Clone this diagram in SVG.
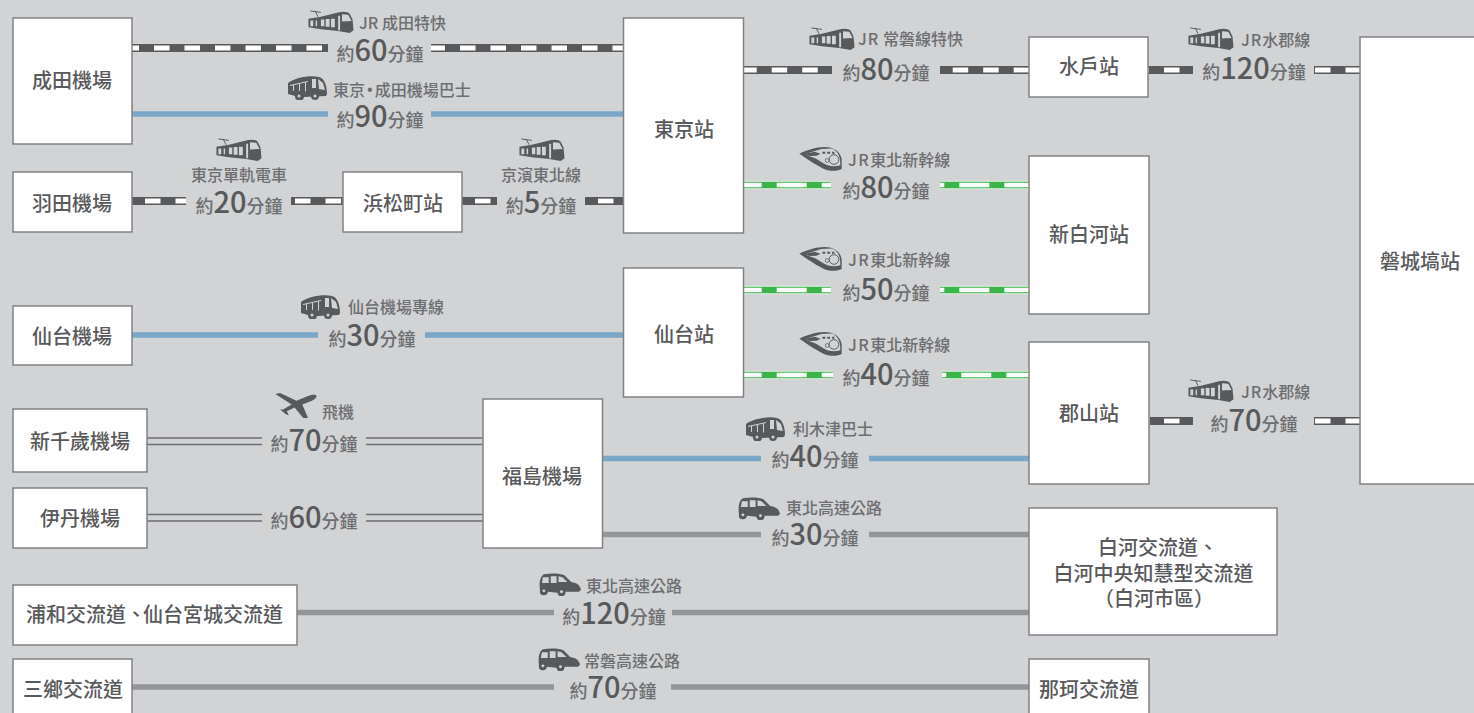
<svg xmlns="http://www.w3.org/2000/svg" width="1474" height="713" viewBox="0 0 1474 713">
<style>
text{font-family:"Noto Sans CJK TC","Noto Sans",sans-serif;fill:#58595b;font-weight:500}
.n rect{fill:#fff;stroke:#808285;stroke-width:1.5}
.n text{font-size:20px;text-anchor:middle;fill:#58595b}
.l{font-size:16px;fill:#6d6e71}
.d{font-size:18px;text-anchor:middle;fill:#6d6e71}
.d tspan{font-size:29px;fill:#58595b}
.rd{stroke:#58595b;stroke-width:8;fill:none}
.rw{stroke:#fff;stroke-width:4.800;stroke-dasharray:15.500 15;fill:none}
.ge{stroke:#e4f4e6;stroke-width:8.500;fill:none}
.gg{stroke:#39b54a;stroke-width:6.500;fill:none}
.gw{stroke:#fff;stroke-width:4.500;stroke-dasharray:30 15;fill:none}
.b{stroke:#7aa7c7;stroke-width:5.500;fill:none}
.g{stroke:#939598;stroke-width:5.500;fill:none}
.t{stroke:#6d6e71;stroke-width:1.400;fill:none}
.i{fill:#58595b}
.h{fill:#d1d3d4}
</style>
<defs>
<symbol id="tram" viewBox="0 0 48 24"><path d="M3 1l11 1.500M8 1l3 6" stroke="#58595b" stroke-width="1" fill="none"/><path class="i" d="M1 9L14 7 34 2Q42 1 44 4L47 10 48 21 44 24 32 22 14 20 1 18Z"/><path class="h" d="M3 11h3v6H3zM8.500 11h1.500v6H8.500zM14 10h3.500v7H14zM19 9.500h4v8h-4zM24.500 9h4v9h-4zM36 4.500l6.500.500 3.500 6.500-10 .500zM32 6h2v15h-2z"/></symbol>
<symbol id="bus" viewBox="0 0 40 24"><path class="i" d="M1 7C8 2 22-1 32 1 37 2 40 9 40 18L39 20 17 21A4 4 0 0 1 8 20L1 18Z"/><circle class="i" cx="28" cy="20" r="4"/><path class="h" d="M3 9L21 5 21 6 3 10ZM6 9h1v6H6zM12 8h1v7h-1zM18 6.500h1v9h-1zM25 3h4v9h-4zM31 3l5 4 2 7-6-1z"/><circle class="h" cx="12" cy="20" r="1.500"/><circle class="h" cx="28" cy="20" r="1.500"/></symbol>
<symbol id="train" viewBox="0 0 44 27"><path class="i" d="M0 8C8 4 18 1 26 1 36 1 43 6 44 14L44 24C38 27 30 26 24 23 16 19 6 12 0 8Z"/><path class="h" d="M5 8.500L23 3 34 2.500C40 5 42.500 11 42.500 17L42.500 20C36 22 30 21 25 18L17 13Z"/><path class="i" d="M3 8.500L16 6 22 8 18 10 11 10.500ZM24 6h3v2h-3zM29 6h3v2h-3zM34 6h2.500v2H34z"/><circle fill="none" stroke="#58595b" stroke-width="1" cx="36" cy="14" r="5"/><circle fill="none" stroke="#58595b" stroke-width=".8" cx="29" cy="15" r="2"/></symbol>
<symbol id="car" viewBox="0 0 43 23"><path class="i" d="M1 18C0 10 1 3 5 1 12 0 22 0 26 2L33 9C39 10 42 12 43 17L41 19H27A4 4 0 0 1 19 20L9 19A4 4 0 0 1 1 18Z"/><path class="h" d="M4 4h6v6H3zM12 3h6v7h-6zM20 3l4 1 5 5-9 0z"/><circle class="i" cx="23" cy="19" r="4"/><circle class="i" cx="5" cy="18" r="4"/><circle class="h" cx="23" cy="19" r="1.500"/><circle class="h" cx="5" cy="18" r="1.500"/></symbol>
<symbol id="plane" viewBox="0 0 44 28"><path class="i" d="M42 2C44 3 42 6 38 8L28 12 34 26 29 26 20 15 12 19 14 23 11 22 5 17 8 17 17 12 0 1 5 0 22 8 34 3C37 2 40 1.500 42 2Z"/></symbol>
</defs>
<rect width="1474" height="713" fill="#d1d3d4"/>
<g id="connectors">
<path class="rd" d="M132 48H328M431 48H623"/><path class="rw" stroke-dashoffset="8.500" d="M132 48H328"/><path class="rw" stroke-dashoffset="1.500" d="M431 48H623"/>
<path class="b" d="M132 114H328M431 114H623"/>
<path class="rd" d="M132 201H186M291 201H343"/><path class="rw" stroke-dashoffset="-13" d="M132 201H186"/><path class="rw" stroke-dashoffset="-4" d="M291 201H343"/>
<path class="rd" d="M462 201H497M585 201H623"/><path class="rw" stroke-dashoffset="-13" d="M462 201H497"/><path class="rw" stroke-dashoffset="-13" d="M585 201H623"/>
<path class="b" d="M132 335H318M425 335H623"/>
<path class="rd" d="M744 70H832M940 70H1029"/><path class="rw" stroke-dashoffset="2.800" d="M744 70H832"/><path class="rw" stroke-dashoffset="-12.700" d="M940 70H1029"/>
<path class="rd" d="M1148 70H1193M1314 70H1360"/><path class="rw" stroke-dashoffset="-16" d="M1148 70H1193"/><path class="rw" stroke-dashoffset="-1" d="M1314 70H1360"/>
<path class="rd" d="M1150 421H1193M1314 421H1360"/><path class="rw" stroke-dashoffset="-14" d="M1150 421H1193"/><path class="rw" stroke-dashoffset="-1" d="M1314 421H1360"/>
<path class="ge" d="M744 185H831M940 185H1029"/><path class="gg" d="M744 185H831M940 185H1029"/><path class="gw" stroke-dashoffset="12.300" d="M744 185H831"/><path class="gw" stroke-dashoffset="25.700" d="M940 185H1029"/>
<path class="ge" d="M744 290H831M940 290H1029"/><path class="gg" d="M744 290H831M940 290H1029"/><path class="gw" stroke-dashoffset="12.300" d="M744 290H831"/><path class="gw" stroke-dashoffset="25.700" d="M940 290H1029"/>
<path class="ge" d="M744 375H833M942 375H1029"/><path class="gg" d="M744 375H833M942 375H1029"/><path class="gw" stroke-dashoffset="12.300" d="M744 375H833"/><path class="gw" stroke-dashoffset="25.700" d="M942 375H1029"/>
<path class="t" d="M147 438H262M147 444.500H262M366 438H483M366 444.500H483"/>
<path class="t" d="M147 514.500H262M147 521H262M366 514.500H483M366 521H483"/>
<path class="b" d="M603 458.500H761M869 458.500H1029"/>
<path class="g" d="M603 534.500H761M869 534.500H1029"/>
<path class="g" d="M297 612.500H554M672 612.500H1029"/>
<path class="g" d="M132 687H554M671 687H1029"/>
</g>
<g id="labels">
<use href="#tram" x="307" y="10" width="47" height="23"/><text class="l" x="359" y="29">JR 成田特快</text><text class="d" x="380" y="61">約<tspan>60</tspan>分鐘</text>
<use href="#bus" x="287" y="76" width="40" height="24"/><text class="l" x="333" y="96">東京<tspan font-family="Liberation Sans" dx="2" dy="-1">•</tspan><tspan dx="2" dy="1">成田機場巴士</tspan></text><text class="d" x="380" y="127">約<tspan>90</tspan>分鐘</text>
<use href="#tram" x="215" y="138" width="47" height="23"/><text class="l" x="239" y="181" text-anchor="middle">東京單軌電車</text><text class="d" x="239" y="213">約<tspan>20</tspan>分鐘</text>
<use href="#tram" x="518" y="138" width="47" height="23"/><text class="l" x="541" y="181" text-anchor="middle">京濱東北線</text><text class="d" x="541" y="213">約<tspan>5</tspan>分鐘</text>
<use href="#bus" x="300" y="295" width="40" height="24"/><text class="l" x="348" y="313">仙台機場專線</text><text class="d" x="372" y="346">約<tspan>30</tspan>分鐘</text>
<use href="#tram" x="808" y="27" width="47" height="23"/><text class="l" x="858" y="45"><tspan letter-spacing="1">JR</tspan> 常磐線特快</text><text class="d" x="886" y="80">約<tspan>80</tspan>分鐘</text>
<use href="#tram" x="1187" y="27" width="47" height="23"/><text class="l" x="1241" y="46"><tspan letter-spacing="1">JR</tspan>水郡線</text><text class="d" x="1254" y="79">約<tspan>120</tspan>分鐘</text>
<use href="#tram" x="1187" y="379" width="47" height="23"/><text class="l" x="1241" y="398"><tspan letter-spacing="1">JR</tspan>水郡線</text><text class="d" x="1254" y="431">約<tspan>70</tspan>分鐘</text>
<use href="#train" x="799" y="146" width="43" height="26"/><text class="l" x="848" y="166"><tspan letter-spacing="1.500">JR</tspan>東北新幹線</text><text class="d" x="886" y="198">約<tspan>80</tspan>分鐘</text>
<use href="#train" x="799" y="246" width="43" height="26"/><text class="l" x="848" y="266"><tspan letter-spacing="1.500">JR</tspan>東北新幹線</text><text class="d" x="886" y="300">約<tspan>50</tspan>分鐘</text>
<use href="#train" x="799" y="331" width="43" height="26"/><text class="l" x="848" y="351"><tspan letter-spacing="1.500">JR</tspan>東北新幹線</text><text class="d" x="886" y="385">約<tspan>40</tspan>分鐘</text>
<use href="#plane" x="275" y="393" width="43" height="27"/><text class="l" x="322" y="418">飛機</text><text class="d" x="314" y="451">約<tspan>70</tspan>分鐘</text>
<text class="d" x="314" y="528">約<tspan>60</tspan>分鐘</text>
<use href="#bus" x="745" y="417" width="40" height="24"/><text class="l" x="793" y="435">利木津巴士</text><text class="d" x="815" y="467">約<tspan>40</tspan>分鐘</text>
<use href="#car" x="738" y="497" width="42" height="23"/><text class="l" x="786" y="514">東北高速公路</text><text class="d" x="815" y="545">約<tspan>30</tspan>分鐘</text>
<use href="#car" x="539" y="573" width="42" height="23"/><text class="l" x="586" y="592">東北高速公路</text><text class="d" x="614" y="624">約<tspan>120</tspan>分鐘</text>
<use href="#car" x="538" y="648" width="42" height="23"/><text class="l" x="584" y="667">常磐高速公路</text><text class="d" x="613" y="698">約<tspan>70</tspan>分鐘</text>
</g>
<g id="n1" class="n"><rect x="13" y="18" width="119" height="126"/><text x="72" y="88">成田機場</text></g>
<g id="n2" class="n"><rect x="13" y="172" width="119" height="60"/><text x="72" y="211">羽田機場</text></g>
<g id="n3" class="n"><rect x="13" y="306" width="119" height="59"/><text x="72" y="344">仙台機場</text></g>
<g id="n4" class="n"><rect x="13" y="409" width="134" height="63"/><text x="80" y="449">新千歲機場</text></g>
<g id="n5" class="n"><rect x="13" y="488" width="134" height="60"/><text x="80" y="526">伊丹機場</text></g>
<g id="n6" class="n"><rect x="13" y="585" width="284" height="60"/><text x="26" y="622" style="text-anchor:start">浦和交流道、<tspan dx="-3">仙台宮城交流道</tspan></text></g>
<g id="n7" class="n"><rect x="13" y="659" width="119" height="60"/><text x="73" y="697">三鄉交流道</text></g>
<g id="n8" class="n"><rect x="343" y="172" width="119" height="60"/><text x="403" y="211">浜松町站</text></g>
<g id="n9" class="n"><rect x="623.500" y="18" width="120" height="215"/><text x="684" y="137">東京站</text></g>
<g id="n10" class="n"><rect x="623.500" y="268" width="120" height="129"/><text x="684" y="342">仙台站</text></g>
<g id="n11" class="n"><rect x="483" y="399" width="119.500" height="149"/><text x="542" y="484">福島機場</text></g>
<g id="n12" class="n"><rect x="1029" y="37" width="119" height="60"/><text x="1089" y="74">水戶站</text></g>
<g id="n13" class="n"><rect x="1029" y="156" width="120" height="158"/><text x="1089" y="242">新白河站</text></g>
<g id="n14" class="n"><rect x="1029" y="342" width="120" height="142"/><text x="1089" y="421">郡山站</text></g>
<g id="n15" class="n"><rect x="1029" y="508" width="248" height="127"/><text x="1158" y="555">白河交流道、</text><text x="1153.500" y="581">白河中央知慧型交流道</text><text x="1154" y="606">（白河市區）</text></g>
<g id="n16" class="n"><rect x="1029" y="659" width="120" height="60"/><text x="1089" y="697">那珂交流道</text></g>
<g id="n17" class="n"><rect x="1360" y="37" width="120" height="447"/><text x="1420" y="269">磐城塙站</text></g>
</svg>
